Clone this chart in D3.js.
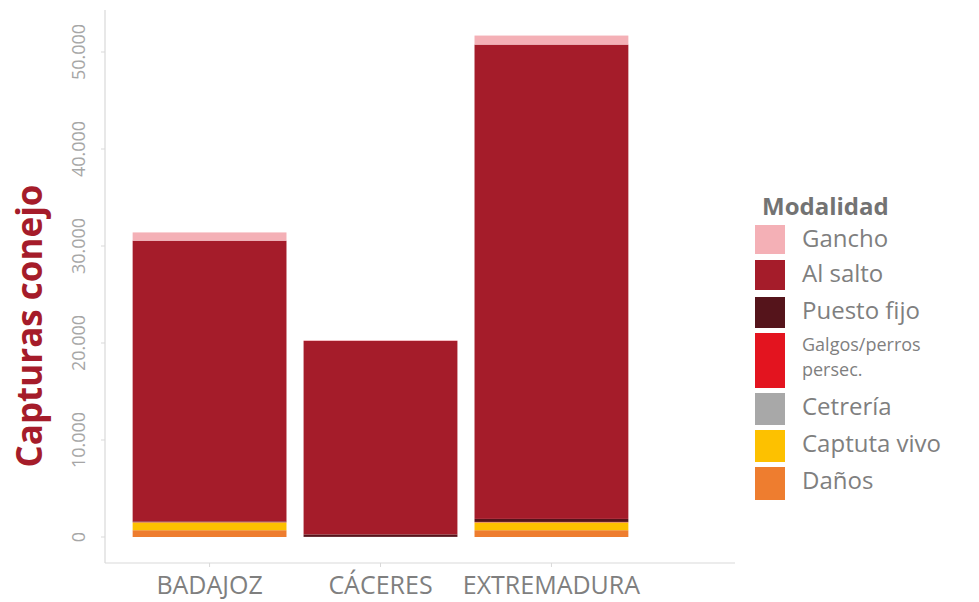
<!DOCTYPE html>
<html>
<head>
<meta charset="utf-8">
<script src="https://cdn.jsdelivr.net/npm/d3@7"></script>
<style>
  body { margin: 0; background: #fff; }
  text { font-family: "Open Sans", sans-serif; }
</style>
</head>
<body>
<div id="chart"></div>
<script>
// provinces on the x axis
const provincias = ["BADAJOZ", "CÁCERES", "EXTREMADURA"];

// modalities, legend order (top to bottom)
const modalidades = ["Gancho", "Al salto", "Puesto fijo", "Galgos/perros persec.", "Cetrería", "Captuta vivo", "Daños"];
const colores = ["#f4b0b6", "#a51c2a", "#55141b", "#e3141f", "#a8a8a8", "#fdc100", "#ee7d2f"];

// captures per modality, one value per province
const gancho      = [850, 80, 930];
const alSalto     = [28950, 19950, 48900];
const puestoFijo  = [60, 250, 310];
const galgos      = [30, 10, 40];
const cetreria    = [10, 5, 15];
const capturaVivo = [800, 0, 800];
const danos       = [700, 0, 700];

const yTicks = [0, 10000, 20000, 30000, 40000, 50000];

const series = [gancho, alSalto, puestoFijo, galgos, cetreria, capturaVivo, danos];

const width = 979, height = 602;
const svg = d3.select("#chart").append("svg")
    .attr("width", width)
    .attr("height", height);

const rows = provincias.map(function(p, i) {
    const row = { provincia: p };
    modalidades.forEach(function(m, j) { row[m] = series[j][i]; });
    return row;
});

// stack from bottom (Daños) to top (Gancho)
const stack = d3.stack().keys(modalidades.slice().reverse());
const layers = stack(rows);

const color = d3.scaleOrdinal().domain(modalidades).range(colores);

const x = d3.scaleBand()
    .domain(provincias)
    .range([107, 654])
    .paddingInner(0.1)
    .paddingOuter(0.15);

const y = d3.scaleLinear()
    .domain([0, 50000])
    .range([537, 52]);

const fmt = d3.formatLocale({ decimal: ",", thousands: ".", grouping: [3], currency: ["", "€"] }).format(",");

// axis lines
svg.append("line")
    .attr("x1", 105).attr("x2", 105)
    .attr("y1", 10).attr("y2", 563)
    .attr("stroke", "#d9d9d9").attr("stroke-width", 1.2);
svg.append("line")
    .attr("x1", 105).attr("x2", 735)
    .attr("y1", 563).attr("y2", 563)
    .attr("stroke", "#d9d9d9").attr("stroke-width", 1.2);

// y ticks
const yg = svg.append("g");
yg.selectAll("line")
    .data(yTicks).enter()
    .append("line")
      .attr("x1", 101).attr("x2", 105)
      .attr("y1", function(d) { return y(d); })
      .attr("y2", function(d) { return y(d); })
      .attr("stroke", "#d9d9d9");
yg.selectAll("text")
    .data(yTicks).enter()
    .append("text")
      .attr("transform", function(d) { return `translate(85,${y(d)}) rotate(-90)`; })
      .attr("text-anchor", "middle")
      .attr("font-size", 18)
      .attr("fill", "#a6a6a6")
      .text(function(d) { return fmt(d); });

// x ticks + labels
const xg = svg.append("g");
xg.selectAll("line")
    .data(provincias).enter()
    .append("line")
      .attr("x1", function(d) { return x(d) + x.bandwidth() / 2; })
      .attr("x2", function(d) { return x(d) + x.bandwidth() / 2; })
      .attr("y1", 563).attr("y2", 567)
      .attr("stroke", "#d9d9d9");
xg.selectAll("text")
    .data(provincias).enter()
    .append("text")
      .attr("x", function(d) { return x(d) + x.bandwidth() / 2; })
      .attr("y", 594)
      .attr("text-anchor", "middle")
      .attr("font-size", 25)
      .attr("fill", "#7f7f7f")
      .text(function(d) { return d; });

// bars
svg.append("g")
    .selectAll("g")
    .data(layers).enter()
    .append("g")
      .attr("fill", function(d) { return color(d.key); })
    .selectAll("rect")
    .data(function(d) { return d; }).enter()
    .append("rect")
      .attr("x", function(d) { return x(d.data.provincia); })
      .attr("y", function(d) { return y(d[1]); })
      .attr("width", x.bandwidth())
      .attr("height", function(d) { return y(d[0]) - y(d[1]); });

// y title
svg.append("text")
    .attr("transform", "translate(42,326) rotate(-90)")
    .attr("text-anchor", "middle")
    .attr("font-size", 35)
    .attr("font-weight", "bold")
    .attr("fill", "#a51c2a")
    .text("Capturas conejo");

// legend
const legend = svg.append("g").attr("transform", "translate(755,0)");
legend.append("text")
    .attr("x", 7).attr("y", 215)
    .attr("font-size", 24)
    .attr("font-weight", "bold")
    .attr("fill", "#737373")
    .text("Modalidad");

const keyY = [225, 260, 297, 333, 393, 430, 467];
const keyH = [29, 30, 31, 55, 32, 32, 33];
const items = legend.selectAll("g.item")
    .data(modalidades).enter()
    .append("g").attr("class", "item")
      .attr("transform", function(d, i) { return `translate(0,${keyY[i]})`; });
items.append("rect")
    .attr("width", 30)
    .attr("height", function(d, i) { return keyH[i]; })
    .attr("fill", function(d) { return color(d); });
items.each(function(d) {
    const g = d3.select(this);
    const lines = d === "Galgos/perros persec." ? ["Galgos/perros", "persec."] : [d];
    lines.forEach(function(l, k) {
        g.append("text")
            .attr("x", 47)
            .attr("y", lines.length > 1 ? 18 + k * 25 : 22)
            .attr("font-size", lines.length > 1 ? 18 : 24)
            .attr("fill", "#7f7f7f")
            .text(l);
    });
});
</script>
</body>
</html>
